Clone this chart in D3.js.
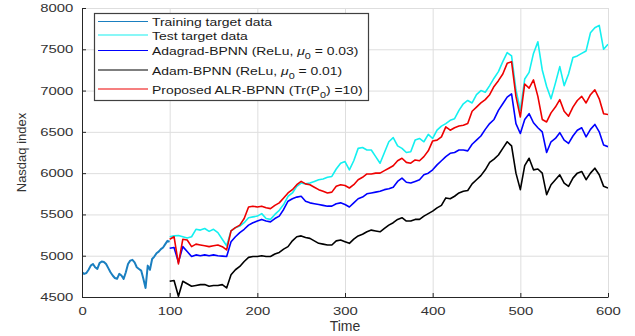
<!DOCTYPE html>
<html>
<head>
<meta charset="utf-8">
<script src="https://cdn.jsdelivr.net/npm/d3@7.9.0/dist/d3.min.js"></script>
<style>
  body { margin: 0; background: #fff; }
  svg { display: block; font-family: "Liberation Sans", Arial, sans-serif; }
  .tick text { fill: #333; font-size: 11px; }
</style>
</head>
<body>
<div id="chart"></div>
<script>
// ---- data ----
const trainTime = [0, 2.5, 5, 7.5, 10, 12.5, 15, 17.5, 20, 22.5, 25, 27.5, 30, 32.5, 35, 37.5, 40, 42.5, 45, 47.5,
  50, 52.5, 55, 57.5, 60, 62.5, 65, 67.5, 70, 72.5, 75, 77.5, 80, 82.5, 85, 87.5, 90, 92.5, 95, 97.5, 100];
const trainValues = [4800, 4780, 4790, 4830, 4880, 4900, 4860, 4840, 4910, 4930, 4925, 4900, 4850, 4800, 4760, 4730, 4720, 4780, 4760, 4720,
  4800, 4900, 4940, 4950, 4920, 4860, 4840, 4820, 4720, 4610, 4880, 4830, 4960, 4990, 5030, 5050, 5080, 5100, 5140, 5180, 5170];

const testTime = d3.range(100, 601, 5);
const testTarget = [5230, 5240, 5245, 5230, 5215, 5230, 5320, 5310, 5330, 5295, 5320, 5280, 5200, 5120, 5300, 5340, 5360, 5400, 5460, 5470,
  5480, 5510, 5450, 5440, 5500, 5550, 5620, 5720, 5760, 5840, 5880, 5870, 5880, 5900, 5920, 5930, 5950, 5960, 6050, 6120,
  6140, 6040, 6150, 6300, 6310, 6280, 6280, 6200, 6120, 6250, 6380, 6430, 6330, 6300, 6250, 6260, 6400, 6420, 6380, 6470,
  6420, 6520, 6570, 6600, 6640, 6660, 6760, 6840, 6880, 6850, 6950, 7000, 6980, 7060, 7150, 7230, 7350, 7460, 7420, 7010,
  6760, 7140, 7220, 7450, 7590, 7250, 7050, 6900, 7090, 7290, 7060, 7200, 7400, 7420, 7450, 7480, 7700, 7760, 7790, 7500, 7560];
const adagrad = [5090, 5100, 4920, 5110, 5050, 4990, 5010, 5000, 5010, 5000, 5010, 5000, 4995, 4990, 5170, 5230, 5280, 5320, 5370, 5400,
  5420, 5440, 5420, 5410, 5450, 5480, 5560, 5660, 5690, 5710, 5720, 5660, 5640, 5630, 5620, 5610, 5600, 5600, 5630, 5640,
  5620, 5590, 5640, 5690, 5710, 5750, 5760, 5770, 5780, 5800, 5810, 5830, 5900, 5940, 5890, 5880, 5900, 5920, 5980, 6000,
  6040, 6100, 6150, 6200, 6240, 6250, 6280, 6280, 6270, 6350, 6400, 6450, 6530, 6600, 6650, 6760, 6840, 6920, 6960, 6600,
  6480, 6650, 6720, 6610, 6550, 6500, 6250, 6380, 6420, 6490, 6400, 6360, 6450, 6520, 6550, 6440, 6530, 6590, 6500, 6340, 6320];
const adam = [4690, 4700, 4510, 4690, 4660, 4630, 4640, 4650, 4650, 4630, 4640, 4640, 4650, 4610, 4770, 4830, 4870, 4930, 4980, 4990,
  4990, 5000, 4990, 4990, 5020, 5040, 5080, 5110, 5180, 5230, 5240, 5220, 5210, 5180, 5150, 5140, 5130, 5130, 5180, 5190,
  5170, 5150, 5200, 5240, 5260, 5290, 5310, 5300, 5290, 5330, 5370, 5400, 5440, 5460, 5420, 5420, 5440, 5440, 5480, 5510,
  5540, 5580, 5610, 5700, 5690, 5720, 5760, 5780, 5790, 5870, 5920, 5970, 6040, 6130, 6170, 6220, 6300, 6380, 6330, 6000,
  5800, 6090, 6180, 6040, 6050, 6000, 5740, 5860, 5920, 5980, 5880, 5840, 5940, 6000, 6020, 5920, 6000, 6060, 5980, 5840, 5820];
const proposed = [5200, 5230, 4900, 5200, 5190, 5110, 5140, 5130, 5120, 5110, 5120, 5130, 5110, 5070, 5300, 5340, 5370, 5450, 5590, 5600,
  5590, 5600, 5580, 5570, 5610, 5640, 5700, 5760, 5800, 5860, 5900, 5870, 5860, 5830, 5800, 5780, 5760, 5770, 5840, 5860,
  5850, 5820, 5860, 5920, 5950, 5990, 5990, 6000, 6000, 6030, 6060, 6090, 6150, 6180, 6130, 6120, 6160, 6150, 6200, 6270,
  6390, 6400, 6440, 6560, 6520, 6550, 6570, 6580, 6600, 6750, 6800, 6850, 6890, 6950, 7050, 7120, 7200, 7330, 7350, 6930,
  6680, 7080, 7030, 7130, 6930, 6650, 6620, 6730, 6800, 6890, 6750, 6690, 6800, 6880, 6930, 6850, 6950, 7010, 6900, 6720, 6710];

const xTicks = [0, 100, 200, 300, 400, 500, 600];
const yTicks = [4500, 5000, 5500, 6000, 6500, 7000, 7500, 8000];

const series = [
  { name: "train", time: trainTime, values: trainValues, color: "#1a7fc0", width: 2 },
  { name: "test", time: testTime, values: testTarget, color: "#14f0f0", width: 1.6 },
  { name: "adagrad", time: testTime, values: adagrad, color: "#0000ff", width: 1.6 },
  { name: "adam", time: testTime, values: adam, color: "#000000", width: 1.6 },
  { name: "proposed", time: testTime, values: proposed, color: "#ee0000", width: 1.6 },
];

// ---- layout ----
const width = 635, height = 336;
const margin = { top: 8, right: 27, bottom: 39, left: 82 };
const stretch = 1.35; // glyphs in the source figure are wider than tall

const svg = d3.select("#chart").append("svg")
  .attr("width", width).attr("height", height);

const x = d3.scaleLinear().domain([0, 600]).range([margin.left, width - margin.right]);
const y = d3.scaleLinear().domain([4500, 8000]).range([height - margin.bottom, margin.top]);

// gridlines
svg.append("g")
  .attr("transform", `translate(0,${height - margin.bottom})`)
  .call(d3.axisBottom(x).tickValues(xTicks).tickFormat("").tickSize(-(height - margin.top - margin.bottom)))
  .call(g => g.select(".domain").remove())
  .call(g => g.selectAll("line").attr("stroke", "#dedede"));

svg.append("g")
  .attr("transform", `translate(${margin.left},0)`)
  .call(d3.axisLeft(y).tickValues(yTicks).tickFormat("").tickSize(-(width - margin.left - margin.right)))
  .call(g => g.select(".domain").remove())
  .call(g => g.selectAll("line").attr("stroke", "#dedede"));

// lines
svg.append("clipPath").attr("id", "plot-clip")
  .append("rect")
  .attr("x", margin.left).attr("y", margin.top)
  .attr("width", width - margin.left - margin.right)
  .attr("height", height - margin.top - margin.bottom);

const lineGroup = svg.append("g").attr("clip-path", "url(#plot-clip)");
for (const s of series) {
  const pts = s.time.map((t, i) => [t, s.values[i]]);
  lineGroup.append("path")
    .datum(pts)
    .attr("fill", "none")
    .attr("stroke", s.color)
    .attr("stroke-width", s.width)
    .attr("stroke-linejoin", "round")
    .attr("d", d3.line().x(d => x(d[0])).y(d => y(d[1])));
}

// axes (MATLAB style: ticks inward)
const fmt = d3.format("d");
const xAxis = svg.append("g")
  .attr("transform", `translate(0,${height - margin.bottom})`)
  .call(d3.axisBottom(x).tickValues(xTicks).tickFormat(fmt).tickSizeInner(-4).tickSizeOuter(0).tickPadding(10));
const yAxis = svg.append("g")
  .attr("transform", `translate(${margin.left},0)`)
  .call(d3.axisLeft(y).tickValues(yTicks).tickFormat(fmt).tickSizeInner(-4).tickSizeOuter(0).tickPadding(6.5));
for (const g of [xAxis, yAxis]) {
  g.select(".domain").attr("stroke", "#262626");
  g.selectAll(".tick line").attr("stroke", "#262626");
  g.selectAll(".tick text").attr("transform", `scale(${stretch},1)`);
}

// axis titles
svg.append("text")
  .attr("x", x(300)).attr("y", 331)
  .attr("text-anchor", "middle").attr("fill", "#333").attr("font-size", 14)
  .text("Time");
svg.append("text")
  .attr("transform", `translate(26,${y(6250)}) rotate(-90)`)
  .attr("text-anchor", "middle").attr("fill", "#333").attr("font-size", 13)
  .text("Nasdaq index");

// legend
const legend = svg.append("g");
legend.append("rect")
  .attr("x", 94.5).attr("y", 13.5).attr("width", 274).attr("height", 87)
  .attr("fill", "#fff").attr("stroke", "#404040").attr("stroke-width", 1.2);

const legendRows = [
  { color: series[0].color, y: 21.5, parts: [["Training target data"]] },
  { color: series[1].color, y: 35, parts: [["Test target data"]] },
  { color: series[2].color, y: 50.5, parts: [["Adagrad-BPNN (ReLu, "], ["\u03bc", "it"], ["0", "sub"], [" = 0.03)"]] },
  { color: series[3].color, y: 70, parts: [["Adam-BPNN (ReLu, "], ["\u03bc", "it"], ["0", "sub"], [" = 0.01)"]] },
  { color: series[4].color, y: 89, parts: [["Proposed ALR-BPNN (Tr(P"], ["0", "sub"], [") =10)"]] },
];
for (const row of legendRows) {
  legend.append("line")
    .attr("x1", 98).attr("x2", 148).attr("y1", row.y).attr("y2", row.y)
    .attr("stroke", row.color).attr("stroke-width", 1.2);
  const t = legend.append("text")
    .attr("transform", `translate(152,${row.y + 4.5}) scale(1.21,1)`)
    .attr("fill", "#1a1a1a").attr("font-size", 11.5);
  let shifted = false;
  for (const [str, kind] of row.parts) {
    const ts = t.append("tspan").text(str);
    if (kind === "it") ts.attr("font-style", "italic");
    if (kind === "sub") { ts.attr("dy", 4).attr("font-size", 9); shifted = true; }
    else if (shifted) { ts.attr("dy", -4); shifted = false; }
  }
}
</script>
</body>
</html>
